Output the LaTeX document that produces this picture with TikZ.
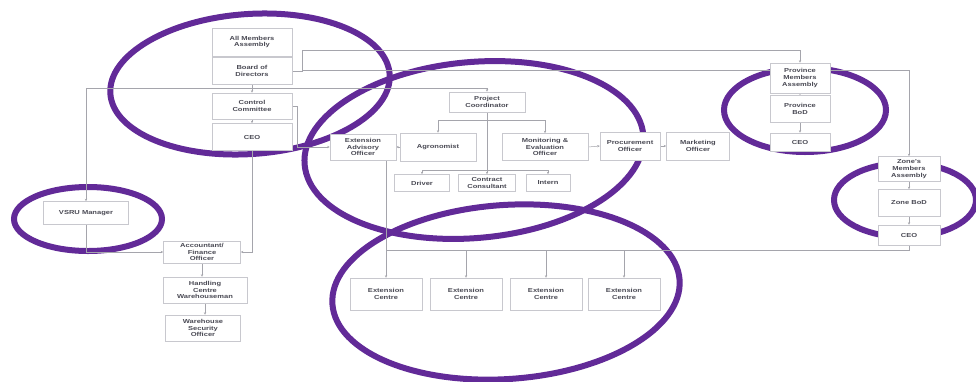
\documentclass[tikz,border=0pt]{standalone}
\usepackage{fontspec}
\setmainfont{Liberation Sans}
\newfontfamily\boxfont[FakeStretch=1.3]{Liberation Sans}
\usetikzlibrary{arrows.meta}
\pgfdeclarelayer{back}
\pgfdeclarelayer{ell}
\pgfdeclarelayer{bg}
\pgfsetlayers{back,ell,bg,main}
\definecolor{ringc}{RGB}{98,42,152}
\definecolor{boxline}{RGB}{200,200,206}
\definecolor{lineclr}{RGB}{165,165,172}
\definecolor{txt}{RGB}{75,75,85}
\tikzset{
  box/.style={draw=boxline, fill=white, line width=0.5pt, align=center, inner sep=1pt,
    font=\boxfont\fontsize{5.8}{6.8}\selectfont\bfseries, text=txt},
  conn/.style={draw=lineclr, line width=0.5pt},
  arr/.style={conn, -{Stealth[length=2.5pt,width=2.2pt]}},
  ring/.style={draw=ringc, line width=6pt},
}
\begin{document}
\begin{tikzpicture}[x=1pt,y=-1pt]
\useasboundingbox (0,0) rectangle (976,381);
\begin{pgfonlayer}{back}
\fill[white] (0,0) rectangle (976,381);
\end{pgfonlayer}
% nodes
\node[box, minimum width=80pt, minimum height=28pt] (ama) at (252,42) {All Members\\Assembly};
\node[box, minimum width=80pt, minimum height=27pt] (bod) at (252,71) {Board of\\Directors};
\node[box, minimum width=80pt, minimum height=26pt] (cc) at (252,106) {Control\\Committee};
\node[box, minimum width=80pt, minimum height=27pt] (ceo1) at (252,137) {CEO};
\node[box, minimum width=76pt, minimum height=20pt] (pc) at (487,102) {Project\\Coordinator};
\node[box, minimum width=66pt, minimum height=26pt] (eao) at (363,147) {Extension\\Advisory\\Officer};
\node[box, minimum width=76pt, minimum height=28pt] (agr) at (438,147) {Agronomist};
\node[box, minimum width=86pt, minimum height=27pt] (me) at (545,147) {Monitoring \&\\Evaluation\\Officer};
\node[box, minimum width=60pt, minimum height=28pt] (proc) at (630,146) {Procurement\\Officer};
\node[box, minimum width=63pt, minimum height=28pt] (mkt) at (698,146) {Marketing\\Officer};
\node[box, minimum width=55pt, minimum height=17pt] (drv) at (422,183) {Driver};
\node[box, minimum width=57pt, minimum height=17pt] (con) at (487,183) {Contract\\Consultant};
\node[box, minimum width=44pt, minimum height=17pt] (int) at (548,183) {Intern};
\node[box, minimum width=72pt, minimum height=32pt] (ec1) at (386,294) {Extension\\Centre};
\node[box, minimum width=72pt, minimum height=32pt] (ec2) at (466,294) {Extension\\Centre};
\node[box, minimum width=72pt, minimum height=32pt] (ec3) at (546,294) {Extension\\Centre};
\node[box, minimum width=72pt, minimum height=32pt] (ec4) at (624,294) {Extension\\Centre};
\node[box, minimum width=85pt, minimum height=23pt] (vsru) at (86,213) {VSRU Manager};
\node[box, minimum width=77pt, minimum height=22pt] (acc) at (202,252) {Accountant/\\Finance\\Officer};
\node[box, minimum width=84pt, minimum height=26pt] (hcw) at (205,290) {Handling\\Centre\\Warehouseman};
\node[box, minimum width=75pt, minimum height=26pt] (wso) at (203,328) {Warehouse\\Security\\Officer};
\node[box, minimum width=60pt, minimum height=30pt] (pma) at (800,78) {Province\\Members\\Assembly};
\node[box, minimum width=60pt, minimum height=27pt] (pbod) at (800,109) {Province\\BoD};
\node[box, minimum width=60pt, minimum height=18pt] (ceo2) at (800,142) {CEO};
\node[box, minimum width=62pt, minimum height=25pt] (zma) at (909,169) {Zone's\\Members\\Assembly};
\node[box, minimum width=62pt, minimum height=27pt] (zbod) at (909,203) {Zone BoD};
\node[box, minimum width=62pt, minimum height=20pt] (ceo3) at (909,235) {CEO};
\coordinate (j1) at (252,88);
\coordinate (j2) at (487,120);
\coordinate (j3) at (487,170);
\coordinate (bus) at (0,250);
% ellipses
\begin{pgfonlayer}{ell}
\draw[ring, rotate around={4:(250,84)}] (250,84) ellipse [x radius=140, y radius=70];
\draw[ring, rotate around={5:(474,150)}] (474,150) ellipse [x radius=170, y radius=88];
\draw[ring, rotate around={4:(506,292)}] (506,292) ellipse [x radius=174, y radius=87];
\draw[ring] (88,219) ellipse [x radius=74, y radius=32];
\draw[ring] (805,110) ellipse [x radius=81, y radius=42];
\draw[ring] (905,200) ellipse [x radius=71, y radius=37];
\end{pgfonlayer}
% connectors
\begin{pgfonlayer}{bg}
\draw[arr] (ama) -- (bod);
\draw[arr] (bod) -- (cc);
\draw[arr] (cc) -- (ceo1);
\draw[arr] (j1) -| (vsru.north);
\draw[arr] (j1) -| (pc.north);
\draw[arr] (bod.east) -- (302,71) -- (302,50) -| (pma.north);
\draw[arr] (302,70) -| (zma.north);
\draw[arr] (cc.east) -- (297,106) |- (eao.west);
\draw[arr] (ceo1.south) |- (acc.east);
\draw[arr] (vsru.south) |- (acc.west);
\draw[arr] (acc.south) -- (acc.south |- hcw.north);
\draw[arr] (hcw.south) -- (hcw.south |- wso.north);
\draw[conn] (pc.south) -- (j3);
\draw[arr] (j2) -| (agr.north);
\draw[arr] (j2) -| (me.north);
\draw[arr] (j3) -| (drv.north);
\draw[arr] (j3) -- (con.north);
\draw[arr] (j3) -| (int.north);
\draw[arr] (agr.west) -- (eao.east);
\draw[arr] (me.east) -- (proc.west);
\draw[arr] (proc.east) -- (mkt.west);
\draw[arr] (eao.south -| ec1.north) -- (ec1.north);
\draw[conn] (ceo3.south) |- (ec1.north |- bus);
\draw[arr] (ec2.north |- bus) -- (ec2.north);
\draw[arr] (ec3.north |- bus) -- (ec3.north);
\draw[arr] (ec4.north |- bus) -- (ec4.north);
\draw[arr] (pma) -- (pbod);
\draw[arr] (pbod) -- (ceo2);
\draw[arr] (zma) -- (zbod);
\draw[arr] (zbod) -- (ceo3);
\end{pgfonlayer}
\end{tikzpicture}
\end{document}
